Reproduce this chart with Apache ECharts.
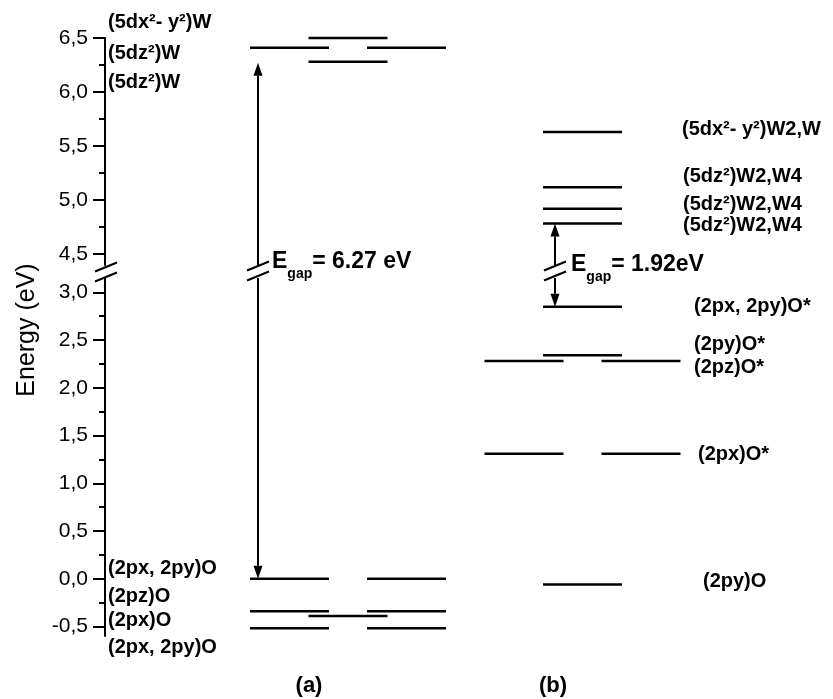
<!DOCTYPE html>
<html>
<head>
<meta charset="utf-8">
<script src="https://cdn.jsdelivr.net/npm/echarts@6/dist/echarts.min.js"></script>
<style>
html, body { margin: 0; padding: 0; background: #fff; }
#main { width: 833px; height: 699px; }
</style>
</head>
<body>
<div id="main"></div>
<script>
// energy levels (eV) of panel (a) and (b), 'C' = one centred bar, 'LR' = split bar
var levelsA = [6.5, 6.41, 6.28, 0.0, -0.34, -0.39, -0.52];
var slotsA = ['C', 'LR', 'C', 'LR', 'LR', 'C', 'LR'];
var levelsB = [5.63, 5.12, 4.92, 4.785, 2.85, 2.34, 2.28, 1.31, -0.06];
var slotsB = ['C', 'C', 'C', 'C', 'C', 'C', 'LR', 'LR', 'C'];

// band gap arrows [bottom, top]
var gapA = [0.0, 6.27];
var gapB = [2.85, 4.785];
var gapTextA = '= 6.27 eV';
var gapTextB = '= 1.92eV';

// axis ticks (broken axis)
var upperTicks = [4.5, 5.0, 5.5, 6.0, 6.5];
var upperMinor = [4.75, 5.25, 5.75, 6.25];
var lowerTicks = [-0.5, 0.0, 0.5, 1.0, 1.5, 2.0, 2.5, 3.0];
var lowerMinor = [-0.25, 0.25, 0.75, 1.25, 1.75, 2.25, 2.75];

// orbital names
var orbA = ['(5dx²- y²)W', '(5dz²)W', '(5dz²)W', '(2px, 2py)O', '(2pz)O', '(2px)O', '(2px, 2py)O'];
var orbB = ['(5dx²- y²)W2,W', '(5dz²)W2,W4', '(5dz²)W2,W4', '(5dz²)W2,W4', '(2px, 2py)O*', '(2py)O*', '(2pz)O*', '(2px)O*', '(2py)O'];
var panelNames = ['(a)', '(b)'];

// ---- layout ----
var UP_MIN = 4.4, UP_MAX = 6.5, LO_MIN = -0.6, LO_MAX = 3.15;
var CX_A = 243, CX_B = 477.5;   // panel centres, px from axis
var SIDE = 58.5, HALF = 39.5;   // split bar offset, bar half width
var ARROW_A = CX_A - 90, ARROW_B = CX_B - 27.5;
var orbPosA = [[108, 22], [108, 53], [108, 82], [108, 568], [108, 596], [108, 620], [108, 647]];
var orbPosB = [[682, 129], [683, 176], [683, 204], [683, 225], [694, 306], [694, 344], [694, 367], [698, 454], [703, 581]];
var FONT = '"Liberation Sans", Arial, sans-serif';

function segments(levels, slots, cx, upper) {
	var out = [];
	for (var i = 0; i < levels.length; i++) {
		var e = levels[i];
		if ((e >= UP_MIN) !== upper) continue;
		if (slots[i] === 'C') {
			out.push([cx - HALF, cx + HALF, e]);
		} else {
			out.push([cx - SIDE - HALF, cx - SIDE + HALF, e]);
			out.push([cx + SIDE - HALF, cx + SIDE + HALF, e]);
		}
	}
	return out;
}

function levelItem(params, api) {
	var p1 = api.coord([api.value(0), api.value(2)]);
	var p2 = api.coord([api.value(1), api.value(2)]);
	return {
		type: 'line',
		shape: { x1: p1[0], y1: p1[1], x2: p2[0], y2: p2[1] },
		style: { stroke: '#000', lineWidth: 2.5 }
	};
}

function arrowItem(params, api) {
	var a = api.coord([api.value(0), api.value(1)]);
	var b = api.coord([api.value(0), api.value(2)]);
	var dir = b[1] < a[1] ? -1 : 1;
	var hl = 13, hw = 4.5;
	return {
		type: 'group',
		children: [
			{ type: 'line', shape: { x1: a[0], y1: a[1], x2: b[0], y2: b[1] - dir * hl }, style: { stroke: '#000', lineWidth: 2 } },
			{ type: 'polygon', shape: { points: [[b[0], b[1]], [b[0] - hw, b[1] - dir * hl], [b[0] + hw, b[1] - dir * hl]] }, style: { fill: '#000' } }
		]
	};
}

function fmt(v) { return v.toFixed(1).replace('.', ','); }

function yAxisMajor(gi, min, max, ticks) {
	return {
		type: 'value', gridIndex: gi, min: min, max: max, position: 'left',
		axisLine: { show: true, onZero: false, lineStyle: { color: '#000', width: 2 } },
		axisTick: { show: true, length: 12, customValues: ticks, lineStyle: { color: '#000', width: 2 } },
		axisLabel: { show: true, customValues: ticks, margin: 17, formatter: fmt, color: '#000', fontSize: 21, fontFamily: FONT },
		splitLine: { show: false }
	};
}
function yAxisMinor(gi, min, max, ticks) {
	return {
		type: 'value', gridIndex: gi, min: min, max: max, position: 'left',
		axisLine: { show: false },
		axisTick: { show: true, length: 6, customValues: ticks, lineStyle: { color: '#000', width: 2 } },
		axisLabel: { show: false },
		splitLine: { show: false }
	};
}

function slash(cx, cy) {
	return { type: 'line', shape: { x1: cx - 11, y1: cy + 4.5, x2: cx + 11, y2: cy - 4.5 }, style: { stroke: '#000', lineWidth: 2 } };
}
function txt(x, y, s, font, align) {
	return { type: 'text', x: x, y: y, style: { text: s, font: font, fill: '#000', align: align || 'left', verticalAlign: 'middle' } };
}
function gapLabel(x, y, s) {
	return {
		type: 'text', x: x, y: y,
		style: {
			text: '{e|E}{g|gap}{e|' + s + '}', fill: '#000', align: 'left', verticalAlign: 'top',
			rich: {
				e: { fontSize: 23, fontWeight: 'bold', fontFamily: FONT, verticalAlign: 'top' },
				g: { fontSize: 14, fontWeight: 'bold', fontFamily: FONT, verticalAlign: 'top', padding: [17, 0, 0, 0] }
			}
		}
	};
}

var myChart = echarts.init(document.getElementById('main'));

var graphics = [];
var orbFont = 'bold 20px ' + FONT;
orbA.forEach(function (s, i) { graphics.push(txt(orbPosA[i][0], orbPosA[i][1], s, orbFont)); });
orbB.forEach(function (s, i) { graphics.push(txt(orbPosB[i][0], orbPosB[i][1], s, orbFont)); });
graphics.push(txt(309, 686, panelNames[0], 'bold 22px ' + FONT, 'center'));
graphics.push(txt(553, 686, panelNames[1], 'bold 22px ' + FONT, 'center'));
graphics.push({
	type: 'text', x: 27, y: 330, rotation: Math.PI / 2,
	style: { text: 'Energy (eV)', font: '25px ' + FONT, fill: '#000', align: 'center', verticalAlign: 'middle' }
});
graphics.push(gapLabel(272, 250, gapTextA));
graphics.push(gapLabel(571, 253, gapTextB));
// axis and arrow break marks
graphics.push(slash(106, 267), slash(106, 277));
graphics.push(slash(105 + ARROW_A, 266), slash(105 + ARROW_A, 276));
graphics.push(slash(105 + ARROW_B, 266), slash(105 + ARROW_B, 276));

var option = {
	backgroundColor: '#fff',
	animation: false,
	grid: [
		{ left: 105, width: 726, top: 38, height: 227 },
		{ left: 105, width: 726, top: 278, height: 358 }
	],
	xAxis: [
		{ type: 'value', gridIndex: 0, min: 0, max: 726, show: false },
		{ type: 'value', gridIndex: 1, min: 0, max: 726, show: false }
	],
	yAxis: [
		yAxisMajor(0, UP_MIN, UP_MAX, upperTicks),
		yAxisMinor(0, UP_MIN, UP_MAX, upperMinor),
		yAxisMajor(1, LO_MIN, LO_MAX, lowerTicks),
		yAxisMinor(1, LO_MIN, LO_MAX, lowerMinor)
	],
	series: [
		{
			type: 'custom', xAxisIndex: 0, yAxisIndex: 0, renderItem: levelItem,
			data: segments(levelsA, slotsA, CX_A, true).concat(segments(levelsB, slotsB, CX_B, true))
		},
		{
			type: 'custom', xAxisIndex: 1, yAxisIndex: 2, renderItem: levelItem,
			data: segments(levelsA, slotsA, CX_A, false).concat(segments(levelsB, slotsB, CX_B, false))
		},
		{
			type: 'custom', xAxisIndex: 0, yAxisIndex: 0, renderItem: arrowItem,
			data: [[ARROW_A, UP_MIN, gapA[1]], [ARROW_B, UP_MIN, gapB[1]]]
		},
		{
			type: 'custom', xAxisIndex: 1, yAxisIndex: 2, renderItem: arrowItem,
			data: [[ARROW_A, LO_MAX, gapA[0]], [ARROW_B, LO_MAX, gapB[0]]]
		}
	],
	graphic: graphics
};

myChart.setOption(option);
window.onresize = myChart.resize;
</script>
</body>
</html>
